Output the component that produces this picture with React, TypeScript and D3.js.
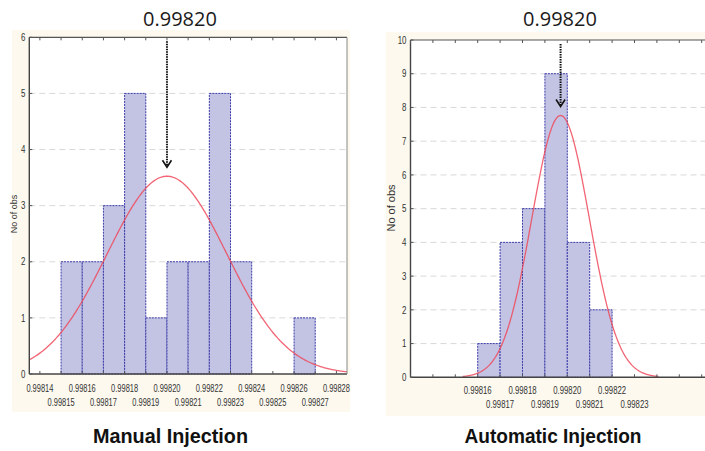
import React from "react";
import * as d3 from "d3";

// ---------- DATA ----------
const leftBinStarts = [0.99815, 0.99816, 0.99817, 0.99818, 0.99819, 0.9982, 0.99821, 0.99822, 0.99823, 0.99824, 0.99825, 0.99826];
const leftCounts = [2, 2, 3, 5, 1, 2, 2, 5, 2, 0, 0, 1];
const leftTicks = [0.99814, 0.99815, 0.99816, 0.99817, 0.99818, 0.99819, 0.9982, 0.99821, 0.99822, 0.99823, 0.99824, 0.99825, 0.99826, 0.99827, 0.99828];
const leftTickLabels = ["0.99814", "0.99815", "0.99816", "0.99817", "0.99818", "0.99819", "0.99820", "0.99821", "0.99822", "0.99823", "0.99824", "0.99825", "0.99826", "0.99827", "0.99828"];
const leftYTicks = [0, 1, 2, 3, 4, 5, 6];
const leftMean = 0.9982;
const leftSigma = 0.0000283;

const rightBinStarts = [0.99816, 0.99817, 0.99818, 0.99819, 0.9982, 0.99821];
const rightCounts = [1, 4, 5, 9, 4, 2];
const rightTicks = [0.99813, 0.99814, 0.99815, 0.99816, 0.99817, 0.99818, 0.99819, 0.9982, 0.99821, 0.99822, 0.99823, 0.99824, 0.99825, 0.99826];
const rightLabelTicks = [0.99816, 0.99817, 0.99818, 0.99819, 0.9982, 0.99821, 0.99822, 0.99823];
const rightTickLabels = ["0.99816", "0.99817", "0.99818", "0.99819", "0.99820", "0.99821", "0.99822", "0.99823"];
const rightYTicks = [0, 1, 2, 3, 4, 5, 6, 7, 8, 9, 10];
const rightMean = 0.998197;
const rightSigma = 0.00001285;

const binWidth = 0.00001;
const titleText = "0.99820";

const sans = "'Liberation Sans', Arial, sans-serif";

type PanelProps = {
  binStarts: number[];
  counts: number[];
  ticks: number[];
  labelTicks: number[];
  labels: string[];
  labelWidth: number;
  yTicks: number[];
  mean: number;
  sigma: number;
  xDomain: [number, number];
  xRange: [number, number];
  yMax: number;
  yRange: [number, number];
  curveDomain: [number, number];
  drawRight: boolean;
  row1: number;
  row2: number;
  ylabelX: number;
  ylabelY: number;
  ylabelSize: number;
  panel: { x: number; y: number; w: number; h: number };
  titleX: number;
  caption: string;
  captionX: number;
  captionWidth: number;
  clipId: string;
};

function Panel(p: PanelProps) {
  const x = d3.scaleLinear().domain(p.xDomain).range(p.xRange);
  const y = d3.scaleLinear().domain([0, p.yMax]).range(p.yRange);
  const n = d3.sum(p.counts);
  const pdf = (v: number) =>
    ((n * binWidth) / (p.sigma * Math.sqrt(2 * Math.PI))) * Math.exp(-((v - p.mean) ** 2) / (2 * p.sigma * p.sigma));
  const xs = d3.range(0, 301).map((i) => p.curveDomain[0] + ((p.curveDomain[1] - p.curveDomain[0]) * i) / 300);
  const line = d3
    .line<number>()
    .x((v) => x(v))
    .y((v) => y(pdf(v)));
  const [x0, x1] = p.xRange;
  const [yb, yt] = p.yRange;
  const peakY = y(pdf(p.mean));
  const ax = x(p.mean);
  const tipY = peakY - 9;
  return (
    <g>
      <rect x={p.panel.x} y={p.panel.y} width={p.panel.w} height={p.panel.h} fill="#fdf9ee" />
      <defs>
        <clipPath id={p.clipId}>
          <rect x={x0} y={yt} width={x1 - x0} height={yb - yt} />
        </clipPath>
      </defs>
      <rect x={x0} y={yt} width={x1 - x0} height={yb - yt} fill="#ffffff" />
      {p.yTicks
        .filter((t) => t > 0 && t < p.yMax)
        .map((t) => (
          <line key={"g" + t} x1={x0} x2={x1} y1={y(t)} y2={y(t)} stroke="#cfcfcf" strokeWidth={0.8} strokeDasharray="6,4" />
        ))}
      {p.binStarts.map((b, i) =>
        p.counts[i] > 0 ? (
          <rect
            key={"b" + i}
            x={x(b)}
            y={y(p.counts[i])}
            width={x(b + binWidth) - x(b)}
            height={y(0) - y(p.counts[i])}
            fill="#c3c3e4"
            stroke="#3c3ca8"
            strokeWidth={1}
            strokeDasharray="2,1"
          />
        ) : null
      )}
      <g clipPath={`url(#${p.clipId})`}>
        <path d={line(xs) || ""} fill="none" stroke="#ee4a5c" strokeWidth={1.3} strokeOpacity={0.85} />
      </g>
      <line x1={x0} x2={x1} y1={yt} y2={yt} stroke="#555" strokeWidth={1.2} />
      <line x1={x0} x2={x0} y1={yt} y2={yb} stroke="#444" strokeWidth={1.4} />
      <line x1={x0} x2={x1} y1={yb} y2={yb} stroke="#444" strokeWidth={1.4} />
      {p.drawRight && <line x1={x1} x2={x1} y1={yt} y2={yb} stroke="#888" strokeWidth={1} />}
      {p.ticks.map((t) => (
        <g key={"t" + t}>
          <line x1={x(t)} x2={x(t)} y1={yt} y2={yt + 3} stroke="#555" strokeWidth={1} />
          <line x1={x(t)} x2={x(t)} y1={yb} y2={yb - 3} stroke="#555" strokeWidth={1} />
        </g>
      ))}
      {p.yTicks.map((t) => (
        <g key={"yt" + t}>
          <line x1={x0} x2={x0 + 3} y1={y(t)} y2={y(t)} stroke="#555" strokeWidth={1} />
          <text
            x={x0 - 4}
            y={y(t)}
            dy="0.35em"
            textAnchor="end"
            fontSize={10.5}
            fontFamily={sans}
            fill="#333"
            textLength={String(t).length * 4.4}
            lengthAdjust="spacingAndGlyphs"
          >
            {t}
          </text>
        </g>
      ))}
      {p.labelTicks.map((t, i) => (
        <text
          key={"l" + t}
          x={x(t)}
          y={i % 2 === 0 ? p.row1 : p.row2}
          dy="0.35em"
          textAnchor="middle"
          fontSize={10.5}
          fontFamily={sans}
          fill="#333"
          textLength={p.labelWidth}
          lengthAdjust="spacingAndGlyphs"
        >
          {p.labels[i]}
        </text>
      ))}
      <text
        transform={`translate(${p.ylabelX},${p.ylabelY}) rotate(-90)`}
        textAnchor="middle"
        dy="0.35em"
        fontSize={p.ylabelSize}
        fontFamily={sans}
        fill="#333"
      >
        No of obs
      </text>
      <line x1={ax} x2={ax} y1={yt + 4} y2={tipY - 1} stroke="#111" strokeWidth={2} strokeDasharray="1.5,1" />
      <path d={`M${ax - 4.5},${tipY - 7} L${ax},${tipY} L${ax + 4.5},${tipY - 7}`} fill="none" stroke="#111" strokeWidth={1.6} />
      <text x={p.titleX} y={26} textAnchor="middle" fontSize={20} fontFamily="'Open Sans', 'Noto Sans', sans-serif" fill="#1a1a1a">
        {titleText}
      </text>
      <text
        x={p.captionX}
        y={443}
        textAnchor="middle"
        fontSize={21}
        fontWeight="bold"
        fontFamily={sans}
        fill="#111"
        textLength={p.captionWidth}
        lengthAdjust="spacingAndGlyphs"
      >
        {p.caption}
      </text>
    </g>
  );
}

export default function App() {
  return (
    <svg width={705} height={451} style={{ position: "absolute", left: 0, top: 0, background: "#fff" }}>
      <Panel
        binStarts={leftBinStarts}
        counts={leftCounts}
        ticks={leftTicks}
        labelTicks={leftTicks}
        labels={leftTickLabels}
        labelWidth={27}
        yTicks={leftYTicks}
        mean={leftMean}
        sigma={leftSigma}
        xDomain={[0.998135, 0.998285]}
        xRange={[29.3, 347]}
        yMax={6}
        yRange={[374, 37.3]}
        curveDomain={[0.998135, 0.998285]}
        drawRight={true}
        row1={388.5}
        row2={402}
        ylabelX={14}
        ylabelY={214}
        ylabelSize={9}
        panel={{ x: 12, y: 30, w: 338, h: 382 }}
        titleX={180}
        caption="Manual Injection"
        captionX={170.5}
        captionWidth={155}
        clipId="clipL"
      />
      <Panel
        binStarts={rightBinStarts}
        counts={rightCounts}
        ticks={rightTicks}
        labelTicks={rightLabelTicks}
        labels={rightTickLabels}
        labelWidth={28}
        yTicks={rightYTicks}
        mean={rightMean}
        sigma={rightSigma}
        xDomain={[0.99813, 0.998265]}
        xRange={[410.5, 712.9]}
        yMax={10}
        yRange={[377.3, 40]}
        curveDomain={[rightMean - 3.4 * rightSigma, rightMean + 3.4 * rightSigma]}
        drawRight={false}
        row1={390.7}
        row2={404.3}
        ylabelX={390.7}
        ylabelY={208}
        ylabelSize={11}
        panel={{ x: 386, y: 32, w: 319, h: 384 }}
        titleX={560}
        caption="Automatic Injection"
        captionX={553}
        captionWidth={177}
        clipId="clipR"
      />
    </svg>
  );
}
